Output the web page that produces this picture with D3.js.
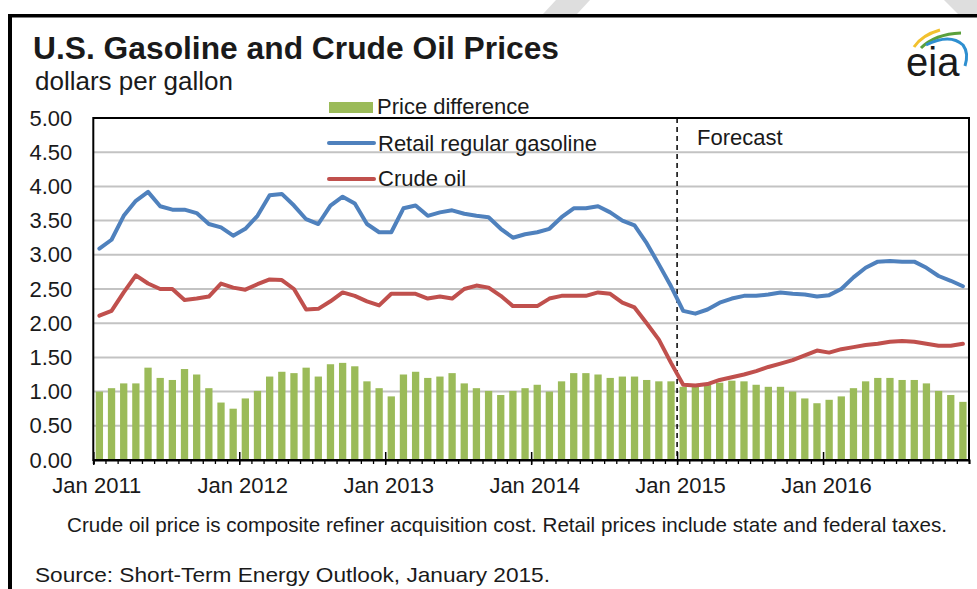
<!DOCTYPE html>
<html>
<head>
<meta charset="utf-8">
<script src="https://cdn.jsdelivr.net/npm/d3@7"></script>
<style>
  html, body { margin: 0; padding: 0; background: #fff; }
  svg { display: block; }
  text { font-family: "Liberation Sans", Arial, sans-serif; fill: #1a1a1a; }
</style>
</head>
<body>
<svg id="chart" width="977" height="589"></svg>
<script>
// ---------- DATA ----------
const years = [2011, 2012, 2013, 2014, 2015, 2016];
const monthNames = ["Jan","Feb","Mar","Apr","May","Jun","Jul","Aug","Sep","Oct","Nov","Dec"];
const months = years.flatMap(y => monthNames.map(m => m + " " + y));

const gasoline = [
  3.09, 3.22, 3.57, 3.79, 3.92, 3.71, 3.66, 3.66, 3.61, 3.45, 3.40, 3.28,
  3.38, 3.57, 3.87, 3.89, 3.72, 3.52, 3.45, 3.72, 3.85, 3.75, 3.45, 3.33,
  3.33, 3.68, 3.72, 3.57, 3.62, 3.65, 3.60, 3.57, 3.55, 3.38, 3.25, 3.30,
  3.33, 3.38, 3.55, 3.68, 3.68, 3.71, 3.62, 3.50, 3.43, 3.17, 2.86, 2.54,
  2.18, 2.14, 2.20, 2.30, 2.36, 2.40, 2.40, 2.42, 2.45, 2.43, 2.42, 2.39,
  2.41, 2.50, 2.67, 2.81, 2.90, 2.91, 2.90, 2.90, 2.81, 2.69, 2.62, 2.54
];
const crude = [
  2.11, 2.18, 2.45, 2.70, 2.58, 2.50, 2.50, 2.34, 2.36, 2.39, 2.58, 2.52,
  2.49, 2.57, 2.64, 2.63, 2.50, 2.20, 2.21, 2.32, 2.45, 2.40, 2.32, 2.26,
  2.43, 2.43, 2.43, 2.36, 2.39, 2.36, 2.50, 2.55, 2.52, 2.40, 2.25, 2.25,
  2.25, 2.36, 2.40, 2.40, 2.40, 2.45, 2.43, 2.30, 2.23, 2.00, 1.76, 1.42,
  1.10, 1.09, 1.11, 1.17, 1.21, 1.25, 1.30, 1.36, 1.41, 1.46, 1.53, 1.60,
  1.57, 1.62, 1.65, 1.68, 1.70, 1.73, 1.74, 1.73, 1.70, 1.67, 1.67, 1.70
];
const priceDifference = [
  1.00, 1.05, 1.12, 1.12, 1.35, 1.20, 1.17, 1.33, 1.25, 1.05, 0.84, 0.75,
  0.90, 1.01, 1.22, 1.29, 1.27, 1.35, 1.22, 1.40, 1.42, 1.37, 1.15, 1.05,
  0.93, 1.25, 1.29, 1.20, 1.22, 1.27, 1.12, 1.05, 1.01, 0.95, 1.01, 1.05,
  1.10, 1.00, 1.15, 1.27, 1.27, 1.25, 1.20, 1.22, 1.22, 1.17, 1.15, 1.15,
  1.07, 1.07, 1.10, 1.13, 1.16, 1.15, 1.10, 1.07, 1.07, 1.00, 0.90, 0.83,
  0.88, 0.93, 1.05, 1.15, 1.20, 1.20, 1.17, 1.17, 1.12, 1.01, 0.95, 0.85
];
const yTicks = [0, 0.5, 1, 1.5, 2, 2.5, 3, 3.5, 4, 4.5, 5];
const xTickLabels = ["Jan 2011", "Jan 2012", "Jan 2013", "Jan 2014", "Jan 2015", "Jan 2016"];
const forecastStart = "Jan 2015";
const seriesNames = ["Price difference", "Retail regular gasoline", "Crude oil"];

// ---------- LAYOUT ----------
const svg = d3.select("#chart");
const plot = { left: 93.3, right: 969, top: 118, bottom: 460 };
const colors = { bar: "#9bbb59", gas: "#4f81bd", crude: "#c0504d", grid: "#c3c3c3" };

// top strip decorations and frame
svg.append("rect").attr("x", 0).attr("y", 0).attr("width", 977).attr("height", 589).attr("fill", "#fff");
svg.append("polygon").attr("points", "556,0 590,0 577,14 543,14").attr("fill", "#dedede");
svg.append("polygon").attr("points", "944,0 977,0 977,14 958,14").attr("fill", "#dedede");
svg.append("rect").attr("x", 8).attr("y", 14).attr("width", 969).attr("height", 3.5).attr("fill", "#000");
svg.append("rect").attr("x", 8).attr("y", 14).attr("width", 4).attr("height", 575).attr("fill", "#000");

// ---------- SCALES ----------
const x = d3.scaleBand().domain(months).range([plot.left, plot.right]).paddingInner(0.4).paddingOuter(0.2);
const xIdx = d3.scaleLinear().domain([0, months.length]).range([plot.left, plot.right]);
const y = d3.scaleLinear().domain([0, 5]).range([plot.bottom, plot.top]);
const xc = m => x(m) + x.bandwidth() / 2;

// gridlines
svg.append("g").selectAll("line").data(yTicks.filter(d => d > 0 && d < 5)).join("line")
  .attr("x1", plot.left).attr("x2", plot.right)
  .attr("y1", d => y(d)).attr("y2", d => y(d))
  .attr("stroke", colors.grid).attr("stroke-width", 2);

// bars
svg.append("g").selectAll("rect").data(priceDifference).join("rect")
  .attr("x", (d, i) => x(months[i]))
  .attr("width", x.bandwidth())
  .attr("y", d => y(d))
  .attr("height", d => y(0) - y(d))
  .attr("fill", colors.bar);

// forecast divider
const fx = xIdx(months.indexOf(forecastStart));
svg.append("line").attr("x1", fx).attr("x2", fx).attr("y1", plot.top).attr("y2", plot.bottom)
  .attr("stroke", "#000").attr("stroke-width", 1.5).attr("stroke-dasharray", "5,4");

// lines
const line = d3.line().x((d, i) => xc(months[i])).y(d => y(d)).curve(d3.curveLinear);
svg.append("path").datum(crude).attr("d", line).attr("fill", "none")
  .attr("stroke", colors.crude).attr("stroke-width", 4).attr("stroke-linejoin", "round").attr("stroke-linecap", "round");
svg.append("path").datum(gasoline).attr("d", line).attr("fill", "none")
  .attr("stroke", colors.gas).attr("stroke-width", 4).attr("stroke-linejoin", "round").attr("stroke-linecap", "round");

// plot frame
svg.append("rect").attr("x", plot.left).attr("y", plot.top)
  .attr("width", plot.right - plot.left).attr("height", plot.bottom - plot.top)
  .attr("fill", "none").attr("stroke", "#000").attr("stroke-width", 2);

// y axis labels
const yAxis = svg.append("g").attr("transform", `translate(${plot.left},0)`)
  .call(d3.axisLeft(y).tickValues(yTicks).tickFormat(d3.format(".2f")).tickSize(0).tickPadding(21));
yAxis.select(".domain").remove();
yAxis.selectAll("text").attr("font-size", 22).attr("font-family", "Liberation Sans, Arial, sans-serif").attr("fill", "#1a1a1a");

// x axis: minor ticks (each month)
const xMinor = svg.append("g").attr("transform", `translate(0,${plot.bottom})`)
  .call(d3.axisBottom(xIdx).tickValues(d3.range(months.length + 1)).tickSize(4).tickFormat(""));
xMinor.select(".domain").attr("stroke-width", 2);
xMinor.selectAll(".tick line").attr("stroke", "#000").attr("stroke-width", 1.3);

// x axis: major ticks (crossing) and labels
const majorIdx = xTickLabels.map(l => months.indexOf(l));
const xMajor = svg.append("g").attr("transform", `translate(0,${plot.bottom})`)
  .call(d3.axisBottom(xIdx).tickValues(majorIdx).tickSize(5).tickPadding(12)
    .tickFormat((d, i) => xTickLabels[i]));
xMajor.select(".domain").remove();
xMajor.selectAll(".tick line").attr("y1", -8).attr("stroke", "#000").attr("stroke-width", 1.5);
xMajor.selectAll("text").attr("font-size", 22).attr("font-family", "Liberation Sans, Arial, sans-serif")
  .attr("fill", "#1a1a1a").attr("dx", 3);

// legend
const lg = svg.append("g");
lg.append("rect").attr("x", 329).attr("y", 102).attr("width", 44).attr("height", 11).attr("fill", colors.bar);
lg.append("text").attr("x", 377).attr("y", 114).attr("font-size", 22).text(seriesNames[0]);
lg.append("line").attr("x1", 329).attr("x2", 374).attr("y1", 143).attr("y2", 143)
  .attr("stroke", colors.gas).attr("stroke-width", 4).attr("stroke-linecap", "round");
lg.append("text").attr("x", 378).attr("y", 151).attr("font-size", 22).text(seriesNames[1]);
lg.append("line").attr("x1", 329).attr("x2", 374).attr("y1", 179).attr("y2", 179)
  .attr("stroke", colors.crude).attr("stroke-width", 4).attr("stroke-linecap", "round");
lg.append("text").attr("x", 378).attr("y", 186).attr("font-size", 22).text(seriesNames[2]);

svg.append("text").attr("x", 697).attr("y", 145).attr("font-size", 22).text("Forecast");

// titles
svg.append("text").attr("x", 33).attr("y", 59).attr("font-size", 31).attr("font-weight", "bold")
  .attr("textLength", 526).attr("lengthAdjust", "spacingAndGlyphs")
  .text("U.S. Gasoline and Crude Oil Prices");
svg.append("text").attr("x", 35).attr("y", 90).attr("font-size", 25)
  .attr("textLength", 198).attr("lengthAdjust", "spacingAndGlyphs").text("dollars per gallon");

// footnotes
svg.append("text").attr("x", 67).attr("y", 532).attr("font-size", 21)
  .attr("textLength", 880).attr("lengthAdjust", "spacingAndGlyphs")
  .text("Crude oil price is composite refiner acquisition cost.  Retail prices include state and federal taxes.");
svg.append("text").attr("x", 35).attr("y", 582).attr("font-size", 21)
  .attr("textLength", 515).attr("lengthAdjust", "spacingAndGlyphs")
  .text("Source:  Short-Term  Energy  Outlook, January  2015.");

// eia logo
const logo = svg.append("g");
logo.append("path").attr("d", "M914,47 Q922,35 940,30").attr("fill", "none").attr("stroke", "#f2c12e").attr("stroke-width", 3);
logo.append("path").attr("d", "M921,48 Q935,34 961,33").attr("fill", "none").attr("stroke", "#5aa03c").attr("stroke-width", 3);
logo.append("path").attr("d", "M926,45 Q950,33 963,45 Q969,53 965,66").attr("fill", "none").attr("stroke", "#2e8fd0").attr("stroke-width", 3);
logo.append("text").attr("x", 906).attr("y", 76).attr("font-size", 40)
  .attr("font-family", "Liberation Serif, 'Times New Roman', serif").attr("fill", "#333").text("eia");
</script>
</body>
</html>
